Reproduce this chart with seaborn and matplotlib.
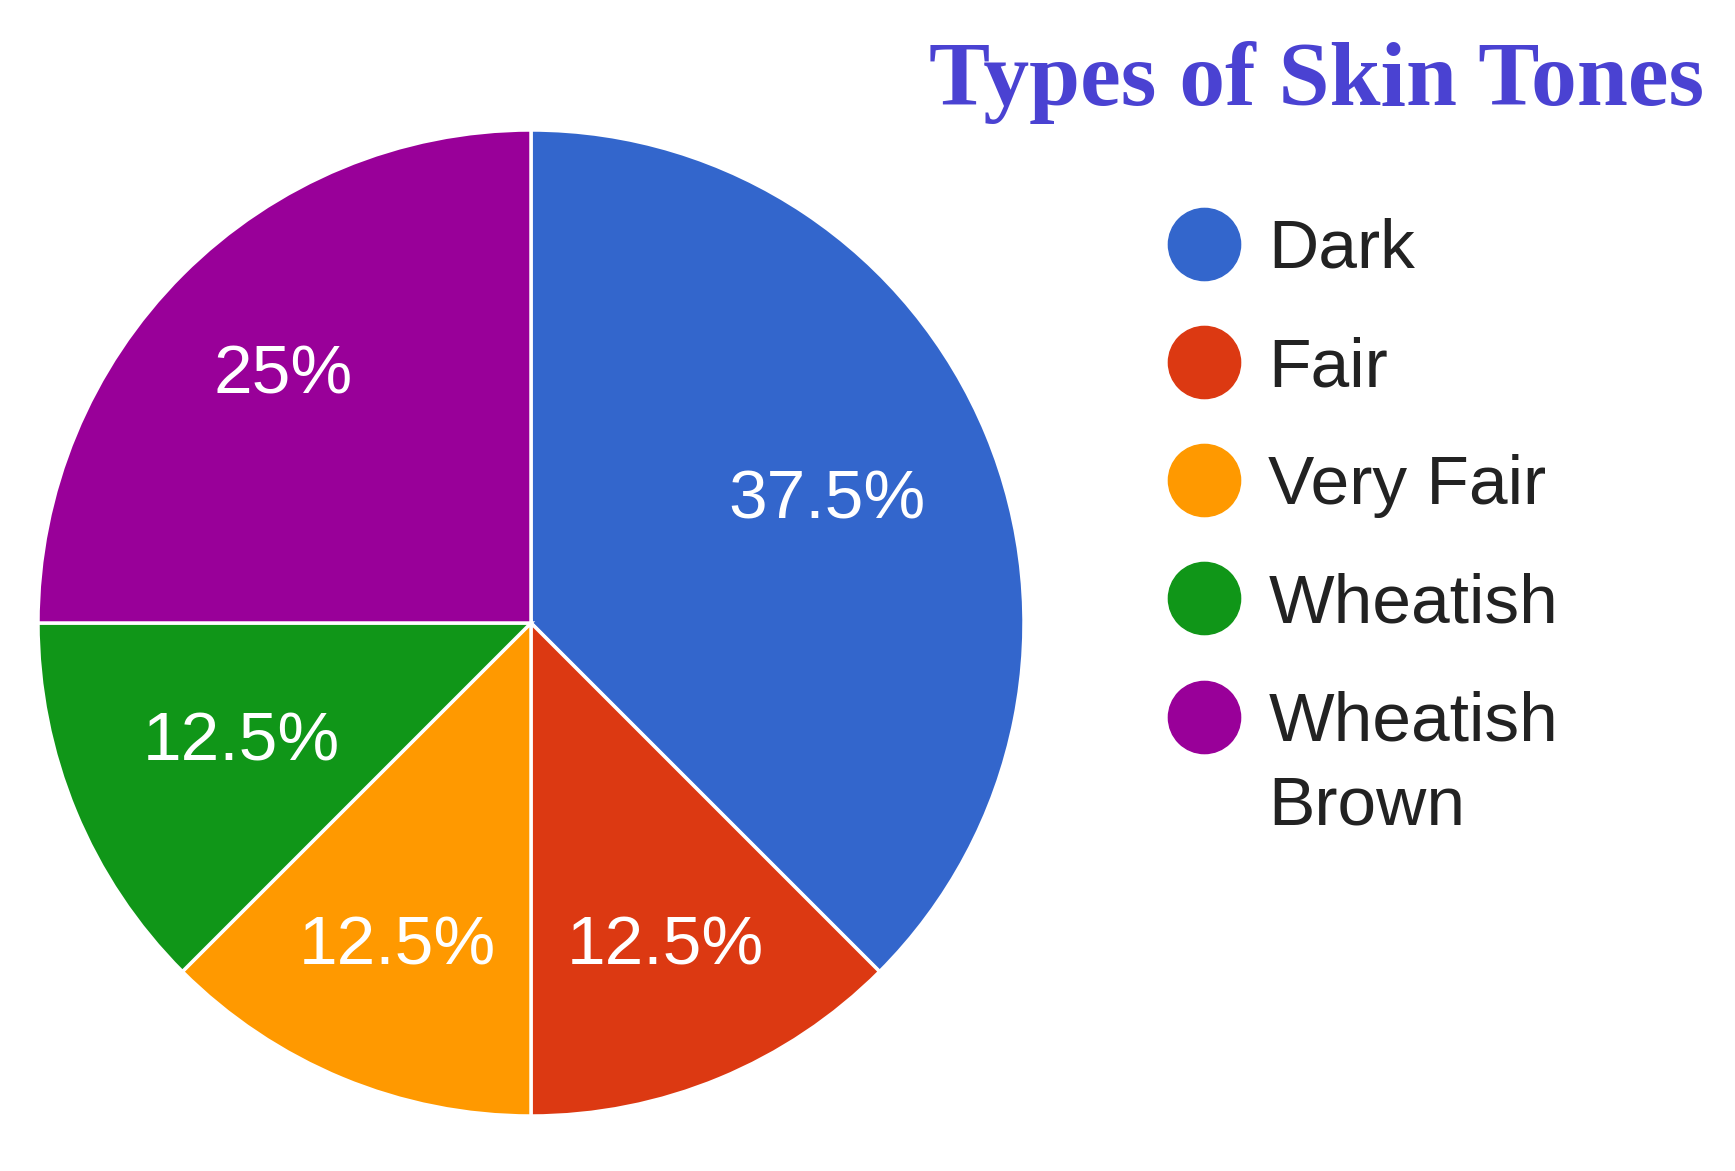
import matplotlib
matplotlib.use("Agg")
import matplotlib.pyplot as plt
from matplotlib.lines import Line2D
import seaborn as sns
import numpy as np

categories = ["Dark", "Fair", "Very Fair", "Wheatish", "Wheatish\nBrown"]
values = [37.5, 12.5, 12.5, 12.5, 25.0]
colors = ["#3366CC", "#DC3912", "#FF9900", "#109618", "#990099"]
title = "Types of Skin Tones"

sns.set_theme(style="white")
plt.rcParams['font.family'] = ['Liberation Sans', 'DejaVu Sans']

W, H = 1735, 1171
fig = plt.figure(figsize=(W / 100, H / 100), dpi=100)
cx, cy, r = 531, 623, 493
ax = fig.add_axes([(cx - r) / W, (H - cy - r) / H, 2 * r / W, 2 * r / H])

wedges, texts, autotexts = ax.pie(
    values, colors=sns.color_palette(colors), startangle=90, counterclock=False,
    radius=1.0, autopct=lambda p: f"{p:g}%", pctdistance=0.7,
    wedgeprops=dict(edgecolor="white", linewidth=2.5),
    textprops=dict(color="white", fontsize=50))

# per-slice label radial distance (style)
label_dist = [0.65, 0.71, 0.71, 0.635, 0.71]
for w, t, d in zip(wedges, autotexts, label_dist):
    ang = np.deg2rad((w.theta1 + w.theta2) / 2)
    t.set_position((d * np.cos(ang), d * np.sin(ang)))

ax.set_xlim(-1, 1)
ax.set_ylim(-1, 1)
ax.set_aspect("equal")
ax.axis("off")

fig.text(1704 / W, 1 - 105 / H, title, ha="right", va="baseline",
         fontsize=66, fontweight="bold", family=["Liberation Serif", "DejaVu Serif"],
         color="#4A42D2")

handles = [Line2D([0], [0], marker="o", linestyle="none", markersize=52,
                  markerfacecolor=c, markeredgecolor=c) for c in colors]
leg = fig.legend(handles, categories, loc="upper left",
                 bbox_to_anchor=(1169 / W, 1 - 218 / H), frameon=False,
                 fontsize=50, handlelength=1.0, handletextpad=0.43,
                 labelspacing=0.78, borderpad=0, borderaxespad=0)
for t in leg.get_texts():
    t.set_color("#222222")
    t.set_linespacing(1.4)

# align the marker of the two-line entry with its first line
last = leg.legend_handles[-1]
yd = np.asarray(last.get_ydata(), dtype=float)
last.set_ydata(yd + 0.5 * 1.4 * 50)

fig.savefig("out.png", dpi=100, facecolor="white")
